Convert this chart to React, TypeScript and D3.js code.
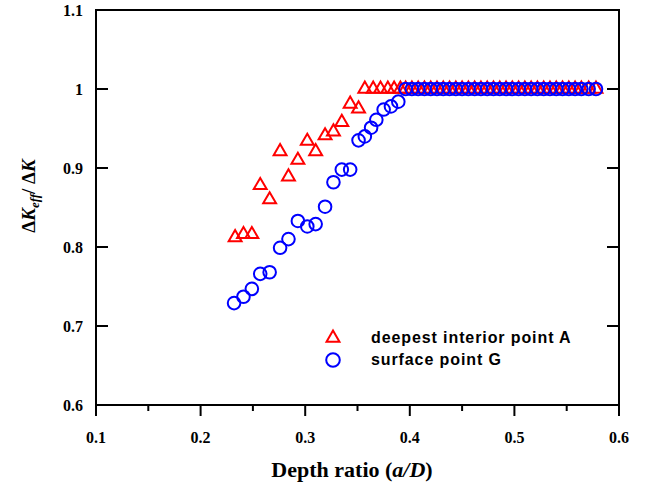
import React from 'react';
import * as d3 from 'd3';

// Series A: deepest interior point A (triangles)
const pointAX = [
  0.233, 0.241, 0.249, 0.257, 0.266, 0.276, 0.284, 0.293, 0.302, 0.310, 0.319, 0.327, 0.335, 0.343, 0.351,
  0.357, 0.365, 0.372, 0.379, 0.385, 0.391,
  0.396, 0.402, 0.408, 0.414, 0.420, 0.426, 0.432, 0.438, 0.444, 0.450, 0.456, 0.462, 0.468, 0.474, 0.480,
  0.486, 0.492, 0.498, 0.504, 0.510, 0.516, 0.522, 0.528, 0.534, 0.540, 0.546, 0.552, 0.558, 0.564, 0.571, 0.578,
];
const pointAY = [
  0.812, 0.816, 0.816, 0.878, 0.860, 0.921, 0.889, 0.910, 0.934, 0.921, 0.941, 0.946, 0.958, 0.981, 0.975,
  1, 1, 1, 1, 1, 1,
  1, 1, 1, 1, 1, 1, 1, 1, 1, 1, 1, 1, 1, 1, 1,
  1, 1, 1, 1, 1, 1, 1, 1, 1, 1, 1, 1, 1, 1, 1, 1,
];

// Series G: surface point G (circles)
const pointGX = [
  0.232, 0.241, 0.249, 0.257, 0.266, 0.276, 0.284, 0.293, 0.302, 0.310, 0.319, 0.327, 0.335, 0.343, 0.351,
  0.357, 0.363, 0.368, 0.375, 0.382, 0.389,
  0.396, 0.402, 0.408, 0.414, 0.420, 0.426, 0.432, 0.438, 0.444, 0.450, 0.456, 0.462, 0.468, 0.474, 0.480,
  0.486, 0.492, 0.498, 0.504, 0.510, 0.516, 0.522, 0.528, 0.534, 0.540, 0.546, 0.552, 0.558, 0.564, 0.571, 0.578,
];
const pointGY = [
  0.729, 0.737, 0.747, 0.766, 0.768, 0.799, 0.810, 0.833, 0.826, 0.829, 0.851, 0.882, 0.898, 0.898, 0.935,
  0.940, 0.951, 0.961, 0.974, 0.978, 0.984,
  1, 1, 1, 1, 1, 1, 1, 1, 1, 1, 1, 1, 1, 1, 1,
  1, 1, 1, 1, 1, 1, 1, 1, 1, 1, 1, 1, 1, 1, 1, 1,
];

const xTicks = [0.1, 0.2, 0.3, 0.4, 0.5, 0.6];
const xTickLabels = ['0.1', '0.2', '0.3', '0.4', '0.5', '0.6'];
const xMinorTicks = [0.15, 0.25, 0.35, 0.45, 0.55];
const yTicks = [0.6, 0.7, 0.8, 0.9, 1, 1.1];
const yTickLabels = ['0.6', '0.7', '0.8', '0.9', '1', '1.1'];
const legendLabels = ['deepest interior point A', 'surface point G'];

const W = 648;
const H = 485;
const left = 96;
const right = 619;
const top = 10;
const bottom = 405;

export default function App() {
  const x = d3.scaleLinear().domain([0.1, 0.6]).range([left, right]);
  const y = d3.scaleLinear().domain([0.6, 1.1]).range([bottom, top]);
  const tri = d3.symbol().type(d3.symbolTriangle).size(72)();
  const serif = '"Liberation Serif", "Times New Roman", serif';
  const sans = '"Liberation Sans", Arial, Helvetica, sans-serif';

  return (
    <svg width={W} height={H} style={{ position: 'absolute', left: 0, top: 0, background: '#fff' }}>
      <rect x={0} y={0} width={W} height={H} fill="#fff" />
      {/* markers: triangles first, circles on top */}
      <g>
        {pointAX.map((v, i) => (
          <path key={'a' + i} d={tri as string} transform={`translate(${x(v)},${y(pointAY[i])})`}
            fill="none" stroke="#ff0000" strokeWidth={2} />
        ))}
      </g>
      <g>
        {pointGX.map((v, i) => (
          <circle key={'g' + i} cx={x(v)} cy={y(pointGY[i])} r={6.3}
            fill="none" stroke="#0000ff" strokeWidth={2} />
        ))}
      </g>
      {/* frame */}
      <rect x={left} y={top} width={right - left} height={bottom - top} fill="none" stroke="#000" strokeWidth={2} />
      {/* y ticks (inward both sides) */}
      {yTicks.map((t, i) => (
        <g key={'y' + i}>
          <line x1={left} x2={left + 12} y1={y(t)} y2={y(t)} stroke="#000" strokeWidth={2} />
          <line x1={right} x2={right - 12} y1={y(t)} y2={y(t)} stroke="#000" strokeWidth={2} />
          <text x={83} y={y(t)} dy="0.35em" textAnchor="end" fontFamily={serif} fontWeight="bold" fontSize={16}>
            {yTickLabels[i]}
          </text>
        </g>
      ))}
      {/* x ticks (outward) */}
      {xTicks.map((t, i) => (
        <g key={'x' + i}>
          <line x1={x(t)} x2={x(t)} y1={bottom} y2={bottom + 11} stroke="#000" strokeWidth={2} />
          <text x={x(t)} y={443} textAnchor="middle" fontFamily={serif} fontWeight="bold" fontSize={16}>
            {xTickLabels[i]}
          </text>
        </g>
      ))}
      {xMinorTicks.map((t, i) => (
        <line key={'xm' + i} x1={x(t)} x2={x(t)} y1={bottom} y2={bottom + 6} stroke="#000" strokeWidth={2} />
      ))}
      {/* axis titles */}
      <text x={352} y={477} textAnchor="middle" fontFamily={serif} fontWeight="bold" fontSize={22}>
        Depth ratio (<tspan fontStyle="italic">a/D</tspan>)
      </text>
      <text transform="translate(35,196) rotate(-90)" textAnchor="middle" fontFamily={serif} fontWeight="bold" fontSize={19}>
        Δ<tspan fontStyle="italic">K</tspan>
        <tspan fontStyle="italic" fontSize={13} dy={4}>eff</tspan>
        <tspan dy={-4}>/ Δ</tspan>
        <tspan fontStyle="italic">K</tspan>
      </text>
      {/* legend */}
      <path d={tri as string} transform={`translate(333,338)`} fill="none" stroke="#ff0000" strokeWidth={2} />
      <text x={371} y={343} fontFamily={sans} fontWeight="bold" fontSize={16} letterSpacing={0.9}>{legendLabels[0]}</text>
      <circle cx={333} cy={360} r={6.8} fill="none" stroke="#0000ff" strokeWidth={2} />
      <text x={371} y={365} fontFamily={sans} fontWeight="bold" fontSize={16} letterSpacing={0.9}>{legendLabels[1]}</text>
    </svg>
  );
}
